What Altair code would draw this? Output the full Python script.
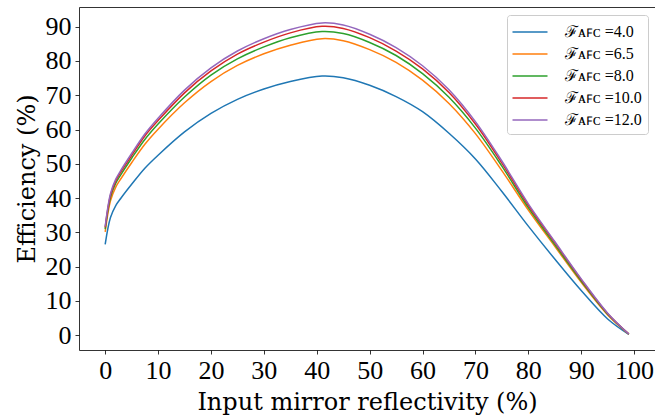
import altair as alt
import pandas as pd

reflectivity = [0, 1, 2, 3, 5, 7.5, 10, 15, 20, 25, 30, 35, 41, 45, 50, 55, 60, 65, 70, 75, 80, 85, 90, 95, 99]
eff_4_0 = [26.5, 34.3, 37.8, 40.0, 44.0, 48.7, 52.5, 59.3, 64.7, 68.8, 71.8, 74.0, 75.6, 75.1, 72.9, 69.6, 65.2, 58.9, 51.4, 41.9, 31.8, 22.2, 13.0, 4.7, 0.2]
eff_6_5 = [30.1, 39.2, 43.2, 45.7, 50.3, 55.7, 60.1, 67.8, 74.0, 78.7, 82.1, 84.6, 86.5, 85.9, 83.3, 79.6, 74.4, 67.6, 58.8, 48.0, 36.5, 25.9, 15.4, 5.9, 0.3]
eff_8_0 = [30.9, 40.2, 44.3, 46.9, 51.6, 57.1, 61.6, 69.5, 75.9, 80.6, 84.1, 86.8, 88.6, 88.0, 85.4, 81.6, 76.3, 69.4, 60.4, 49.3, 37.2, 26.4, 15.8, 6.1, 0.3]
eff_10_0 = [31.4, 40.8, 45.0, 47.7, 52.4, 58.1, 62.6, 70.7, 77.1, 82.0, 85.5, 88.2, 90.1, 89.5, 86.8, 82.9, 77.7, 70.8, 61.6, 50.2, 37.9, 27.0, 16.2, 6.3, 0.3]
eff_12_0 = [31.7, 41.3, 45.5, 48.2, 53.0, 58.7, 63.3, 71.5, 78.0, 82.9, 86.5, 89.2, 91.1, 90.5, 87.8, 83.9, 78.6, 71.6, 62.3, 50.8, 38.3, 27.3, 16.4, 6.4, 0.3]

series_labels = ["ℱᴀꜰᴄ =4.0", "ℱᴀꜰᴄ =6.5", "ℱᴀꜰᴄ =8.0", "ℱᴀꜰᴄ =10.0", "ℱᴀꜰᴄ =12.0"]
series_values = [eff_4_0, eff_6_5, eff_8_0, eff_10_0, eff_12_0]
colors = ["#1f77b4", "#ff7f0e", "#2ca02c", "#d62728", "#9467bd"]

x_ticks = [0, 10, 20, 30, 40, 50, 60, 70, 80, 90, 100]
y_ticks = [0, 10, 20, 30, 40, 50, 60, 70, 80, 90]

rows = []
for lab, vals in zip(series_labels, series_values):
    for xv, yv in zip(reflectivity, vals):
        rows.append({"R": xv, "eff": yv, "series": lab})
df = pd.DataFrame(rows)

xscale = alt.Scale(domain=[-4.95, 103.95], nice=False, zero=False)
yscale = alt.Scale(domain=[-4.35, 95.75], nice=False, zero=False)

tick_font = "Liberation Serif"
title_font = "DejaVu Serif"

lines = alt.Chart(df).mark_line(strokeWidth=1.5, interpolate="catmull-rom").encode(
    x=alt.X("R:Q", scale=xscale,
            axis=alt.Axis(values=x_ticks, title="Input mirror reflectivity (%)", grid=False,
                          labelFont=tick_font, labelFontSize=26, labelColor="black",
                          titleFont=title_font, titleFontSize=24, titleFontWeight="normal",
                          titleColor="black", tickColor="black", tickSize=4, tickWidth=0.8,
                          domainColor="black", domainWidth=0.8, labelPadding=3, titlePadding=7,
                          labelFlush=False)),
    y=alt.Y("eff:Q", scale=yscale,
            axis=alt.Axis(values=y_ticks, title="Efficiency (%)", grid=False,
                          labelFont=tick_font, labelFontSize=26, labelColor="black",
                          titleFont=title_font, titleFontSize=24, titleFontWeight="normal",
                          titleColor="black", tickColor="black", tickSize=4, tickWidth=0.8,
                          domainColor="black", domainWidth=0.8, labelPadding=4, titlePadding=6,
                          labelFlush=False)),
    color=alt.Color("series:N", sort=series_labels,
                    scale=alt.Scale(domain=series_labels, range=colors),
                    legend=alt.Legend(title=None, orient="none", legendX=428, legendY=8,
                                      symbolType="M-1.75,0H1.75", symbolSize=400,
                                      symbolStrokeWidth=1.5, symbolOffset=6,
                                      labelFont=tick_font, labelFontSize=16, labelColor="black",
                                      fillColor="white", strokeColor="#cccccc", cornerRadius=3,
                                      padding=6, rowPadding=3, labelOffset=24)),
)

frame_top = alt.Chart(df).mark_line(opacity=0).encode(
    x=alt.X("R:Q", scale=xscale,
            axis=alt.Axis(orient="top", labels=False, ticks=False, title=None, grid=False,
                          domainColor="black", domainWidth=0.8)),
    y=alt.Y("eff:Q", scale=yscale, axis=None),
    detail="series:N",
)

chart = alt.layer(lines, frame_top).resolve_axis(x="independent", y="independent").properties(
    width=576, height=343,
    padding={"left": 79, "top": 7, "right": 0, "bottom": 70},
    autosize=alt.AutoSizeParams(type="none"),
    background="white",
).configure_view(stroke=None)

chart.save("out.html", embed_options={"renderer": "svg", "actions": False})
